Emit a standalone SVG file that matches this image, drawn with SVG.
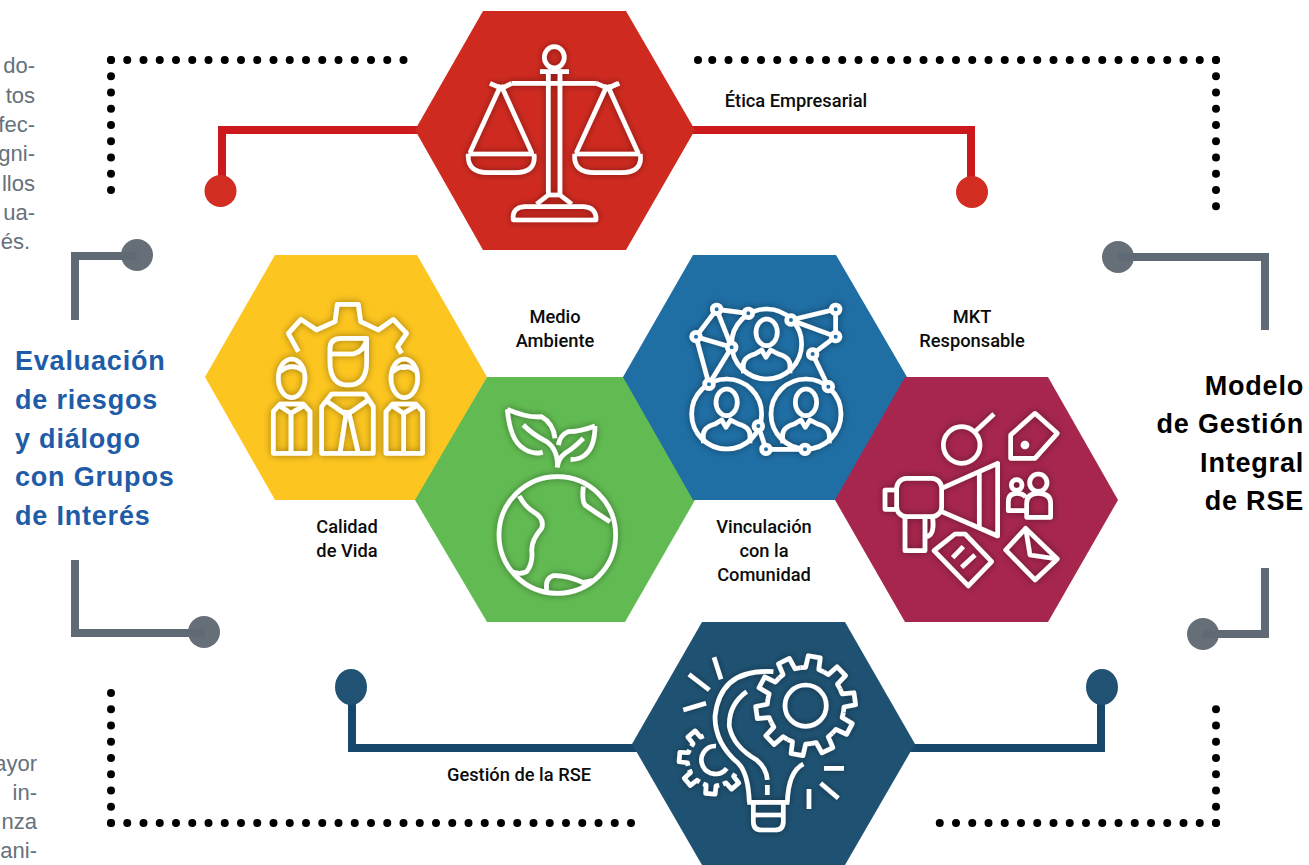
<svg xmlns="http://www.w3.org/2000/svg" xmlns:xlink="http://www.w3.org/1999/xlink" width="1309" height="865" viewBox="0 0 1309 865">
<style>
.dots{fill:none;stroke:#000;stroke-width:8;stroke-linecap:round;stroke-dasharray:0 16.25}
.c{fill:none;stroke-width:8;stroke-linejoin:miter}
.ic{fill:none;stroke:#fff;stroke-width:14;stroke-linejoin:round;stroke-linecap:butt}
.lab{font-family:"Roboto","Liberation Sans",sans-serif;font-weight:500;font-size:18.3px;fill:#0c0c0c;text-anchor:middle}
.ttl{font-family:"Liberation Sans",Arial,sans-serif;font-weight:700;font-size:27px;letter-spacing:.8px}
.gr{font-family:"Liberation Sans",Arial,sans-serif;font-size:22px;fill:#66717b;text-anchor:end}
</style>
<defs>
<filter id="glow" x="-15%" y="-15%" width="130%" height="130%"><feDropShadow dx="0" dy="0" stdDeviation="3.5" flood-color="#000" flood-opacity=".42"/></filter>
<path id="tb" d="M-35.5 -109.4L-20 -113.3L-18.3 -148.9H18.3L20 -113.3L35.5 -109.4"/>
<path id="ts" d="M-24 -74L-15 -76.6L-14.3 -102H14.3L15 -76.6L24 -74"/>
<g id="person"><ellipse cx="0" cy="-35" rx="32" ry="40"/><path d="M-70 88V63Q-70 40-35 30L-15 18L-2 40L12 18L35 30Q70 40 70 63V88"/></g>
<g id="pan"><path d="M273 255L180 458M273 255L365 458M175 462H372M175 462Q170 518 235 518H315Q380 518 372 462"/><path d="M240 250L275 265L305 250"/></g>
<g id="small"><ellipse cx="260" cy="385" rx="40" ry="58"/><path d="M205 610V485L225 462H295L315 485V610ZM225 468L258 490L295 468M258 490V610"/></g>
</defs>

<g id="connectors">
<path class="dots" d="M111 60H405"/>
<path class="dots" d="M111 60V206"/>
<path class="dots" d="M1216 60H711" style="stroke-dashoffset:0"/>
<path class="dots" d="M1216 60V208"/>
<path class="dots" d="M111 823V690"/>
<path class="dots" d="M111 823H635"/>
<path class="dots" d="M1216 823V694"/>
<path class="dots" d="M1216 823H925"/>
<circle cx="698" cy="60" r="4" fill="#000"/>

<path class="c" stroke="#cc1a1c" d="M222 191V130H971V191"/>
<circle cx="220.500" cy="191" r="16" fill="#d12d20"/>
<circle cx="972" cy="192" r="16" fill="#d12d20"/>

<circle cx="137" cy="255" r="16" fill="#666f78"/>
<path class="c" stroke="#5f6a74" d="M75 320V256H137"/>
<circle cx="204" cy="632" r="16" fill="#666f78"/>
<path class="c" stroke="#5f6a74" d="M75 560V633H205"/>
<circle cx="1118" cy="257" r="16" fill="#666f78"/>
<path class="c" stroke="#5f6a74" d="M1118 257H1265V330"/>
<circle cx="1203" cy="634" r="16" fill="#666f78"/>
<path class="c" stroke="#5f6a74" d="M1203 634H1265V568"/>

<path class="c" stroke="#17486b" d="M352 690V748H1101V690"/>
<ellipse cx="351" cy="687" rx="16" ry="18" fill="#215273"/>
<ellipse cx="1102" cy="687" rx="16" ry="18" fill="#215273"/>
</g>

<g id="node-etica">
<polygon points="483,11 626,11 695,130 626,250 483,250 415,130" fill="#cf2a20"/>
<g filter="url(#glow)"><g class="ic" transform="translate(410 0) scale(.3333)">
<ellipse cx="433" cy="172" rx="30" ry="32"/>
<path d="M390 215H477M415 220V590M450 220V590M380 612L415 585H450L485 612"/>
<path d="M310 660Q305 622 345 620H520Q560 622 558 660Z"/>
<path d="M305 250H560"/>
<use xlink:href="#pan" href="#pan"/>
<use xlink:href="#pan" href="#pan" transform="translate(319 0)"/>
<path d="M590 265L628 250"/>
</g></g>
</g>

<g id="node-calidad">
<polygon points="275,255 417,255 487,377 417,500 275,500 205,377" fill="#fcc51f"/>
<g filter="url(#glow)"><g class="ic" transform="translate(205 250) scale(.3333)">
<path d="M280 305L250 250L288 208L335 240L390 215L397 163H460L467 215L520 240L565 208L605 250L578 290L590 310"/>
<path d="M375 310V295Q375 265 410 265H485V335Q485 405 430 405Q375 405 375 335ZM375 312H445Q475 305 485 270"/>
<path d="M350 610V470L380 432H480L505 470V610ZM360 450L425 495L490 450M425 480L405 610M430 480L460 610"/>
<use xlink:href="#small" href="#small"/>
<use xlink:href="#small" href="#small" transform="translate(338 0)"/>
<path d="M225 365Q262 335 298 365"/>
<path d="M563 365Q600 335 636 365M597 345V360"/>
</g></g>
</g>

<g id="node-medio">
<polygon points="487,377 625,377 695,500 625,622 487,622 415,500" fill="#62bb52"/>
<g filter="url(#glow)"><g class="ic" transform="translate(470 390) scale(.3333)">
<path d="M112 58Q120 150 160 175Q190 195 218 187M112 58Q175 85 215 80Q250 100 255 145M160 105Q190 135 230 155Q265 180 262 232"/>
<path d="M375 108Q330 125 295 125Q270 135 265 165M375 108Q375 170 345 195Q325 210 302 208M340 145Q310 175 285 190Q265 205 262 232"/>
<circle cx="262" cy="435" r="175"/>
<path d="M148 318Q165 350 190 365Q225 385 215 415Q185 450 185 480Q190 520 170 545Q150 555 125 545"/>
<path d="M340 290Q335 330 345 345Q380 370 420 395"/>
<path d="M230 600Q225 565 250 557Q290 555 340 578L368 572"/>
</g></g>
</g>

<g id="node-vinculacion">
<polygon points="693,255 836,255 907,377 836,500 693,500 623,377" fill="#1f6ea4"/>
<g filter="url(#glow)"><g class="ic" transform="translate(640 270) scale(.3333)">
<circle cx="380" cy="222" r="105"/><circle cx="260" cy="432" r="105"/><circle cx="498" cy="432" r="105"/>
<use xlink:href="#person" href="#person" transform="translate(380 222)"/>
<use xlink:href="#person" href="#person" transform="translate(260 432)"/>
<use xlink:href="#person" href="#person" transform="translate(498 432)"/>
<path d="M230 118L325 130M230 118L168 200M230 118L275 232M168 200L275 232M168 200L207 343M275 232L207 343M453 150L587 118M453 150L587 200M587 118V200M587 200L518 252M518 252L565 350M355 468L378 538H495"/>
<g fill="#1f6ea4">
<circle cx="230" cy="118" r="13"/><circle cx="325" cy="130" r="13"/><circle cx="453" cy="150" r="13"/><circle cx="587" cy="118" r="13"/><circle cx="587" cy="200" r="13"/><circle cx="518" cy="252" r="13"/><circle cx="168" cy="200" r="13"/><circle cx="275" cy="232" r="13"/><circle cx="207" cy="343" r="13"/><circle cx="565" cy="350" r="13"/><circle cx="355" cy="468" r="13"/><circle cx="378" cy="538" r="13"/><circle cx="495" cy="538" r="13"/>
</g>
</g></g>
</g>

<g id="node-mkt">
<polygon points="905,377 1048,377 1118,500 1048,622 905,622 835,500" fill="#a6264d"/>
<g filter="url(#glow)"><g class="ic" transform="translate(860 390) scale(.3333)">
<circle cx="305" cy="165" r="55"/><path d="M345 125L402 72"/>
<path d="M525 70L592 130L525 205H452V135Z"/><circle cx="495" cy="165" r="6"/>
<rect x="110" y="265" width="135" height="115" rx="30"/>
<path d="M110 300H75V358H110M245 295L413 220V438L245 365M358 245V415"/>
<path d="M135 380V482H195V380M195 440Q225 440 218 385"/>
<circle cx="470" cy="285" r="16"/><path d="M498 362H445V335Q445 310 470 310Q490 310 497 322"/>
<circle cx="535" cy="278" r="26"/><path d="M500 382V340Q500 310 535 310Q572 310 572 340V382Z"/>
<path d="M222 482L285 432H315L395 515L325 588ZM278 503L310 470M305 532L345 495"/>
<path d="M437 480L497 415L592 507L525 570ZM497 415L510 495L592 507"/>
</g></g>
</g>

<g id="node-gestion">
<polygon points="702,622 845,622 915,744 845,865 702,865 632,744" fill="#1f5272"/>
<g filter="url(#glow)"><g class="ic" transform="translate(660 640) scale(.3333)">
<circle cx="437" cy="197" r="62"/>
<g transform="translate(437 197)">
<use xlink:href="#tb" href="#tb" transform="rotate(10)"/><use xlink:href="#tb" href="#tb" transform="rotate(46)"/><use xlink:href="#tb" href="#tb" transform="rotate(82)"/><use xlink:href="#tb" href="#tb" transform="rotate(118)"/><use xlink:href="#tb" href="#tb" transform="rotate(154)"/><use xlink:href="#tb" href="#tb" transform="rotate(190)"/><use xlink:href="#tb" href="#tb" transform="rotate(226)"/><use xlink:href="#tb" href="#tb" transform="rotate(262)"/><use xlink:href="#tb" href="#tb" transform="rotate(298)"/><use xlink:href="#tb" href="#tb" transform="rotate(334)"/>
</g>
<g transform="translate(160 360)">
<use xlink:href="#ts" href="#ts" transform="rotate(-40)"/><use xlink:href="#ts" href="#ts" transform="rotate(-85)"/><use xlink:href="#ts" href="#ts" transform="rotate(-130)"/><use xlink:href="#ts" href="#ts" transform="rotate(-175)"/><use xlink:href="#ts" href="#ts" transform="rotate(140)"/>
</g>
<path d="M168 318A42 42 0 1 0 200 385"/>
<path d="M340 95Q180 85 165 230Q165 310 235 370Q265 400 268 487"/>
<path d="M260 155Q205 195 208 260Q220 320 290 360Q320 385 322 420M322 435V465"/>
<path d="M430 372Q385 395 382 487M262 487H388M280 490V545Q280 570 305 570H345Q370 570 370 545V490M280 525H370"/>
<path d="M162 52L183 118M87 103L148 150M70 210L138 190M492 385H552M482 430L535 475M447 447V507"/>
</g></g>
</g>

<g id="labels">
<text class="lab" x="796" y="107">Ética Empresarial</text>
<text class="lab" x="555" y="323">Medio</text><text class="lab" x="555" y="347">Ambiente</text>
<text class="lab" x="972" y="323">MKT</text><text class="lab" x="972" y="347">Responsable</text>
<text class="lab" x="347" y="533">Calidad</text><text class="lab" x="347" y="557">de Vida</text>
<text class="lab" x="764" y="533">Vinculación</text><text class="lab" x="764" y="557">con la</text><text class="lab" x="764" y="581">Comunidad</text>
<text class="lab" x="519" y="781">Gestión de la RSE</text>
</g>
<g id="title-left" class="ttl" fill="#1f5ca8">
<text x="15" y="370">Evaluación</text><text x="15" y="409">de riesgos</text><text x="15" y="448">y diálogo</text><text x="15" y="486">con Grupos</text><text x="15" y="525">de Interés</text>
</g>
<g id="title-right" class="ttl" fill="#000" text-anchor="end">
<text x="1304" y="395">Modelo</text><text x="1304" y="433">de Gestión</text><text x="1304" y="472">Integral</text><text x="1304" y="510">de RSE</text>
</g>
<g id="side-text">
<text class="gr" x="35" y="73">do-</text><text class="gr" x="35" y="103">tos</text><text class="gr" x="35" y="132">fec-</text><text class="gr" x="35" y="161">gni-</text><text class="gr" x="35" y="191">llos</text><text class="gr" x="35" y="220">ua-</text><text class="gr" x="30" y="249">és.</text>
<text class="gr" x="37" y="771">ayor</text><text class="gr" x="37" y="800">in-</text><text class="gr" x="37" y="829">nza</text><text class="gr" x="37" y="858">ani-</text>
</g>
</svg>
